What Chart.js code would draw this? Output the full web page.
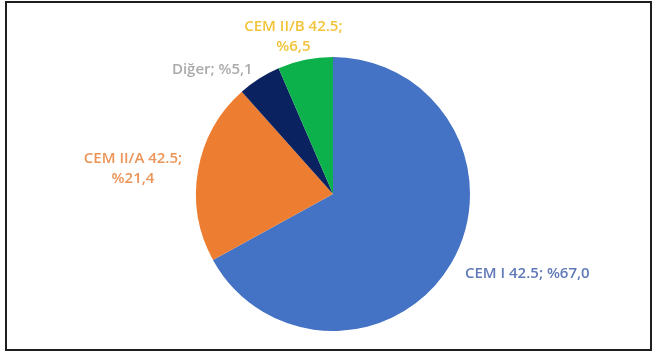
<!DOCTYPE html>
<html lang="tr">
<head>
  <meta charset="UTF-8">
  <title>Çimento türleri</title>
  <script src="https://cdn.jsdelivr.net/npm/chart.js"></script>
  <style>
    html, body { margin: 0; padding: 0; background: #ffffff; }
    body { width: 657px; height: 352px; position: relative; overflow: hidden; }
    .frame {
      position: absolute; left: 5px; top: 1px; width: 647px; height: 350px;
      box-sizing: border-box; border: 2px solid #1e1e1e;
    }
    #pie { position: absolute; left: 0; top: 0; }
  </style>
</head>
<body>
  <div class="frame"></div>
  <canvas id="pie" width="657" height="352"></canvas>

  <script>
    // data
    const categories = ['CEM I 42.5', 'CEM II/A 42.5', 'Diğer', 'CEM II/B 42.5'];
    const shares = [67.0, 21.4, 5.1, 6.5];
    const wrapLabel = [false, true, false, true];

    const sliceColors = ['#4472C4', '#ED7D31', '#0B2260', '#0DB14B'];
    const labelColors = ['#6079B8', '#EC9458', '#ABABAB', '#F2C43A'];

    // small nudges so the labels sit where Excel put them
    const labelNudge = [[2, 3], [-2, 0], [1, 3], [-9, -9]];

    const fmt = v => '%' + v.toFixed(1).replace('.', ',');

    // Outside-end data labels, multi-line blocks centred on themselves
    const outsideLabels = {
      id: 'outsideLabels',
      afterDatasetsDraw(chart) {
        const ctx = chart.ctx;
        const meta = chart.getDatasetMeta(0);
        ctx.save();
        ctx.font = '600 15px "Open Sans", sans-serif';
        ctx.textBaseline = 'middle';
        ctx.textAlign = 'center';
        meta.data.forEach((arc, i) => {
          const p = arc.getProps(['x', 'y', 'startAngle', 'endAngle', 'outerRadius'], true);
          const mid = (p.startAngle + p.endAngle) / 2;
          const dx = Math.cos(mid), dy = Math.sin(mid);
          const ax = p.x + dx * (p.outerRadius + 14) + labelNudge[i][0];
          const ay = p.y + dy * (p.outerRadius + 14) + labelNudge[i][1];
          const lines = wrapLabel[i]
            ? [categories[i] + ';', fmt(shares[i])]
            : [categories[i] + '; ' + fmt(shares[i])];
          const w = Math.max(...lines.map(t => ctx.measureText(t).width));
          const left = dx > 0.3 ? ax : dx < -0.3 ? ax - w : ax - w / 2;
          ctx.fillStyle = labelColors[i];
          const lh = 20;
          lines.forEach((t, k) => ctx.fillText(t, left + w / 2, ay + (k - (lines.length - 1) / 2) * lh));
        });
        ctx.restore();
      }
    };

    new Chart(document.getElementById('pie'), {
      type: 'pie',
      data: {
        labels: categories,
        datasets: [{
          data: shares,
          backgroundColor: sliceColors,
          borderWidth: 0
        }]
      },
      options: {
        responsive: false,
        animation: false,
        layout: { padding: { left: 196, right: 187, top: 57, bottom: 21 } },
        plugins: {
          legend: { display: false },
          tooltip: { enabled: false }
        }
      },
      plugins: [outsideLabels]
    });
  </script>
</body>
</html>
